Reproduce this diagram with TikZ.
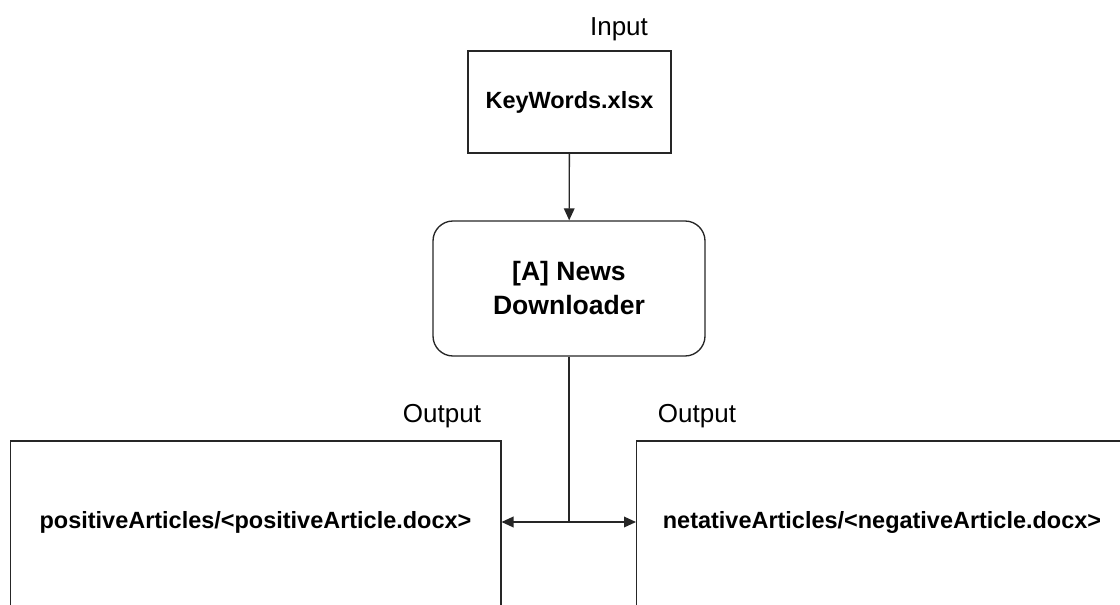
\documentclass[tikz,border=0pt]{standalone}
\usepackage{fontspec}
\setmainfont{Liberation Sans}
\usetikzlibrary{arrows.meta,positioning,calc}

\begin{document}
\begin{tikzpicture}[
    x=0.75pt, y=-0.75pt,
    box/.style={rectangle, draw=black!85, line width=1pt, align=center, font=\fontsize{17.6}{25.5}\selectfont\bfseries},
    outbox/.style={box, minimum width=368pt, minimum height=142.5pt, text depth=24.7pt},
    tag/.style={font=\fontsize{19.5}{23}\selectfont},
    arrow/.style={-{Stealth[length=9pt, width=8pt, inset=0pt]}, line width=1pt, draw=black!85}
]
\useasboundingbox (0,0) rectangle (1120,605);

\node[tag] (intag) at (619,29.5) {Input};
\node[box, minimum width=152.25pt, minimum height=76.5pt] (keywords) at (569.5,102) {KeyWords.xlsx};
\node[box, rounded corners=15pt, minimum width=204pt, minimum height=101.25pt, font=\fontsize{19.9}{25.5}\selectfont\bfseries] (loader) at (569,288.5) {[A] News\\Downloader};

\node[tag] (postag) at (442,416.5) {Output};
\node[tag] (negtag) at (697,416.5) {Output};
\node[outbox] (posart) at (255.5,536) {positiveArticles/<positiveArticle.docx>};
\node[outbox] (negart) at (882,536) {netativeArticles/<negativeArticle.docx>};

\coordinate (split) at (569,522);

\draw[arrow] (keywords) -- (loader);
\draw[line width=1pt, black!85] (loader.south) -- (split);
\draw[arrow] (split) -- (split -| posart.east);
\draw[arrow] (split) -- (split -| negart.west);
\end{tikzpicture}
\end{document}
